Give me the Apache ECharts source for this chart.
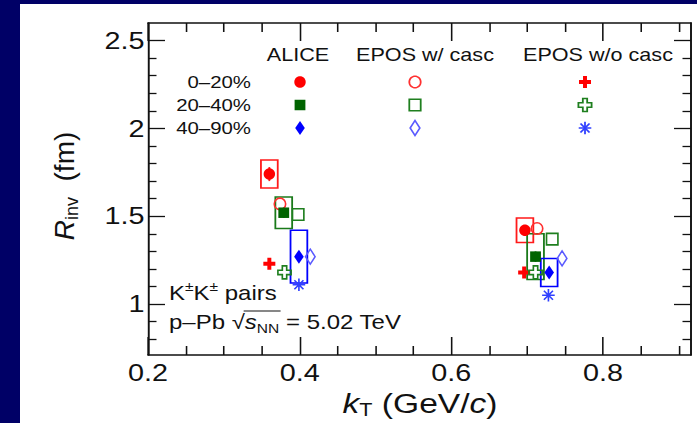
<!DOCTYPE html>
<html>
<head>
<meta charset="utf-8">
<script src="https://cdn.jsdelivr.net/npm/echarts@6/dist/echarts.min.js"></script>
<style>
  html, body { margin: 0; padding: 0; width: 697px; height: 423px; overflow: hidden; background: #000066; }
  #panel { position: absolute; left: 20px; top: 4px; right: 0; bottom: 0; background: #ffffff; }
  #chart { position: absolute; left: 0; top: 0; width: 581px; height: 423px;
           transform: scaleX(1.19966); transform-origin: 0 0; }
</style>
</head>
<body>
<div id="panel"></div>
<div id="chart"></div>
<script>
// ---- data ---------------------------------------------------------------
const centralities = ['0–20%', '20–40%', '40–90%'];
const modelNames = ['ALICE', 'EPOS w/ casc', 'EPOS w/o casc'];

const kTTicks = [0.2, 0.4, 0.6, 0.8];
const kTMinorTicks = [0.25, 0.3, 0.35, 0.45, 0.5, 0.55, 0.65, 0.7, 0.75, 0.85, 0.9];
const rTicks = [1, 1.5, 2, 2.5];
const rMinorTicks = [0.8, 0.9, 1.1, 1.2, 1.3, 1.4, 1.6, 1.7, 1.8, 1.9, 2.1, 2.2, 2.3, 2.4];

// ALICE K±K± radii, one row per centrality class, two kT bins each
const aliceKt   = [[0.360, 0.697], [0.379, 0.711], [0.399, 0.729]];
const aliceR    = [[1.74, 1.42], [1.52, 1.27], [1.27, 1.18]];
const aliceStat = [[0.04, 0.03], [0.03, 0.03], [0.03, 0.03]];
const aliceSyst = [[0.08, 0.07], [0.09, 0.13], [0.15, 0.08]];

// EPOS with hadronic cascade (UrQMD)
const eposCascKt = [[0.374, 0.713], [0.398, 0.733], [0.414, 0.746]];
const eposCascR  = [[1.57, 1.43], [1.51, 1.37], [1.27, 1.26]];

// EPOS without hadronic cascade
const eposNoCascKt = [[0.360, 0.696], [0.380, 0.711], [0.399, 0.728]];
const eposNoCascR  = [[1.23, 1.18], [1.18, 1.18], [1.11, 1.05]];

// ---- styling ------------------------------------------------------------
const SX = 697 / 581;            // horizontal stretch of the drawing surface
const px = v => v / SX;          // page x -> drawing x
const FONT = "'Liberation Sans', Arial, Helvetica, sans-serif";
const INK = '#111111';

// unit marker outlines (x, y in [-1, 1])
const SHAPES = {
  circle: 'M1,0C1,0.552,0.552,1,0,1C-0.552,1,-1,0.552,-1,0C-1,-0.552,-0.552,-1,0,-1C0.552,-1,1,-0.552,1,0Z',
  square: 'M-1,-1L1,-1L1,1L-1,1Z',
  diamond: 'M0,-1L1,0L0,1L-1,0Z',
  plus: 'M-0.33,-1L0.33,-1L0.33,-0.33L1,-0.33L1,0.33L0.33,0.33L0.33,1L-0.33,1L-0.33,0.33L-1,0.33L-1,-0.33L-0.33,-0.33Z',
  star: 'M-1,0L1,0M0,-1L0,1M-0.72,-0.72L0.72,0.72M-0.72,0.72L0.72,-0.72'
};
const POLYS = {
  square: [[-1, -1], [1, -1], [1, 1], [-1, 1]],
  diamond: [[0, -1], [1, 0], [0, 1], [-1, 0]],
  plus: [[-0.33, -1], [0.33, -1], [0.33, -0.33], [1, -0.33], [1, 0.33], [0.33, 0.33], [0.33, 1],
         [-0.33, 1], [-0.33, 0.33], [-1, 0.33], [-1, -0.33], [-0.33, -0.33]],
  star: [[[-1, 0], [1, 0]], [[0, -1], [0, 1]], [[-0.72, -0.72], [0.72, 0.72]], [[-0.72, 0.72], [0.72, -0.72]]]
};

const markerStyles = {
  alice: [
    { kind: 'circle',  w: 9.5, h: 11.5, fill: '#ff0000' },
    { kind: 'square',  w: 9,   h: 10.5, fill: '#006400' },
    { kind: 'diamond', w: 8,   h: 14,   fill: '#0000ff' }
  ],
  eposCasc: [
    { kind: 'circle',  w: 9.5, h: 11.5, stroke: '#ff3030' },
    { kind: 'square',  w: 9.5, h: 11.5, stroke: '#1f7f1f' },
    { kind: 'diamond', w: 8,   h: 15,   stroke: '#5a5aff' }
  ],
  eposNoCasc: [
    { kind: 'plus', w: 10,   h: 12,   fill: '#ff0000' },
    { kind: 'plus', w: 11,   h: 13,   stroke: '#1f7f1f' },
    { kind: 'star', w: 10.5, h: 12.5, stroke: '#3040ff' }
  ]
};
const boxColors = ['#ff1a1a', '#1a7a1a', '#0000ff'];

// ---- axes (frame with inward major and minor ticks on all four sides) ---
function kTAxis(position, ticks, len, line, labels) {
  return {
    type: 'value', min: 0.2, max: 0.916, position: position,
    axisLine: { show: line, onZero: false, lineStyle: { color: INK, width: 1.6 } },
    axisTick: { show: true, inside: true, length: len, customValues: ticks, lineStyle: { color: INK, width: 1.3 } },
    axisLabel: { show: labels, customValues: ticks, margin: 6, fontSize: 24, lineHeight: 24, fontFamily: FONT, color: INK,
                 formatter: v => String(v) },
    splitLine: { show: false }
  };
}
function rAxis(position, ticks, len, line, labels) {
  return {
    type: 'value', min: 0.71, max: 2.6, position: position,
    axisLine: { show: line, onZero: false, lineStyle: { color: INK, width: 1.6 } },
    axisTick: { show: true, inside: true, length: len, customValues: ticks, lineStyle: { color: INK, width: 1.3 } },
    axisLabel: { show: labels, customValues: ticks, margin: 3, fontSize: 24, fontFamily: FONT, color: INK,
                 formatter: v => String(v) },
    splitLine: { show: false }
  };
}

// ---- series -------------------------------------------------------------
const systBoxes = [];
const statBars = [];
for (let c = 0; c < centralities.length; c++) {
  for (let j = 0; j < aliceKt[c].length; j++) {
    systBoxes.push([aliceKt[c][j], aliceR[c][j], aliceSyst[c][j], c]);
    statBars.push([aliceKt[c][j], aliceR[c][j], aliceStat[c][j], c]);
  }
}

const series = [
  {
    type: 'custom', name: 'ALICE syst.', z: 2, data: systBoxes, encode: { x: 0, y: 1 },
    renderItem: function (params, api) {
      const x = api.value(0), y = api.value(1), e = api.value(2), c = api.value(3);
      const hi = api.coord([x, y + e]);
      const lo = api.coord([x, y - e]);
      const hw = 7;
      return {
        type: 'rect',
        shape: { x: hi[0] - hw, y: hi[1], width: 2 * hw, height: lo[1] - hi[1] },
        style: { fill: 'none', stroke: boxColors[c], lineWidth: 1.5 }
      };
    }
  },
  {
    type: 'custom', name: 'ALICE stat.', z: 3, data: statBars, encode: { x: 0, y: 1 },
    renderItem: function (params, api) {
      const x = api.value(0), y = api.value(1), e = api.value(2), c = api.value(3);
      const hi = api.coord([x, y + e]);
      const lo = api.coord([x, y - e]);
      return {
        type: 'line',
        shape: { x1: hi[0], y1: hi[1], x2: lo[0], y2: lo[1] },
        style: { stroke: boxColors[c], lineWidth: 1.5 }
      };
    }
  }
];

const models = [
  { key: 'alice',      kt: aliceKt,      r: aliceR,      z: 5 },
  { key: 'eposCasc',   kt: eposCascKt,   r: eposCascR,   z: 4 },
  { key: 'eposNoCasc', kt: eposNoCascKt, r: eposNoCascR, z: 4 }
];

function itemStyleOf(m) {
  return m.fill
    ? { color: m.fill, borderWidth: 0, opacity: 1 }
    : { color: 'rgba(0,0,0,0)', borderColor: m.stroke, borderWidth: 1.5, opacity: 1 };
}

models.forEach((model, mi) => {
  centralities.forEach((cent, c) => {
    const m = markerStyles[model.key][c];
    series.push({
      type: 'scatter',
      name: modelNames[mi] + ' ' + cent,
      z: model.z,
      symbol: 'path://' + SHAPES[m.kind],
      symbolSize: [m.w, m.h],
      itemStyle: itemStyleOf(m),
      emphasis: { disabled: true },
      data: model.kt[c].map((x, j) => [x, model.r[c][j]])
    });
  });
});

// ---- legend table and annotations ---------------------------------------
function legendMarker(m, cx, cy) {
  const sx = m.w / 2, sy = m.h / 2;
  const style = m.fill ? { fill: m.fill } : { fill: 'none', stroke: m.stroke, lineWidth: 1.5 };
  if (m.kind === 'circle') {
    const pts = [];
    for (let k = 0; k < 36; k++) {
      const a = k / 36 * Math.PI * 2;
      pts.push([cx + sx * Math.cos(a), cy + sy * Math.sin(a)]);
    }
    return [{ type: 'polygon', z: 10, shape: { points: pts }, style: style }];
  }
  if (m.kind === 'star') {
    return POLYS.star.map(seg => ({
      type: 'line', z: 10,
      shape: { x1: cx + seg[0][0] * sx, y1: cy + seg[0][1] * sy, x2: cx + seg[1][0] * sx, y2: cy + seg[1][1] * sy },
      style: { stroke: m.stroke, lineWidth: 1.5 }
    }));
  }
  return [{ type: 'polygon', z: 10,
    shape: { points: POLYS[m.kind].map(p => [cx + p[0] * sx, cy + p[1] * sy]) }, style: style }];
}

const graphics = [];
const colX = [300, 415, 585].map(px);
const headX = [298, 425, 598].map(px);
const rowY = [82, 105, 128];

modelNames.forEach((name, i) => {
  graphics.push({ type: 'text', x: headX[i], y: 55, z: 10,
    style: { text: name, fill: INK, font: '18px ' + FONT, align: 'center', verticalAlign: 'middle' } });
});
centralities.forEach((cent, c) => {
  graphics.push({ type: 'text', x: px(251), y: rowY[c], z: 10,
    style: { text: cent, fill: INK, font: '17px ' + FONT, align: 'right', verticalAlign: 'middle' } });
  models.forEach((model, mi) => {
    legendMarker(markerStyles[model.key][c], colX[mi], rowY[c]).forEach(g => graphics.push(g));
  });
});

// axis titles
graphics.push({
  type: 'text', x: px(420), y: 403, z: 10,
  style: {
    text: '{i|k}{s|T}{n| (GeV/}{i|c}{n|)}', align: 'center', verticalAlign: 'middle',
    rich: {
      n: { fontSize: 28, fontFamily: FONT, fill: INK, lineHeight: 32 },
      i: { fontSize: 28, fontFamily: FONT, fontStyle: 'italic', fill: INK, lineHeight: 32 },
      s: { fontSize: 18, fontFamily: FONT, fill: INK, lineHeight: 12, verticalAlign: 'bottom' }
    }
  }
});
graphics.push({
  type: 'text', x: px(64), y: 186, rotation: Math.PI / 2, scaleY: 1 / SX, z: 10,
  style: {
    text: '{i|R}{s|inv}{n|  (fm)}', align: 'center', verticalAlign: 'middle',
    rich: {
      n: { fontSize: 28, fontFamily: FONT, fill: INK, lineHeight: 34 },
      i: { fontSize: 28, fontFamily: FONT, fontStyle: 'italic', fill: INK, lineHeight: 34 },
      s: { fontSize: 18, fontFamily: FONT, fill: INK, lineHeight: 18, verticalAlign: 'bottom' }
    }
  }
});

// system annotation
const noteRich = {
  n:   { fontSize: 20, fontFamily: FONT, fill: INK, lineHeight: 26 },
  i:   { fontSize: 20, fontFamily: FONT, fontStyle: 'italic', fill: INK, lineHeight: 26 },
  s:   { fontSize: 13, fontFamily: FONT, fill: INK, lineHeight: 13, verticalAlign: 'bottom' },
  sup: { fontSize: 13, fontFamily: FONT, fill: INK, lineHeight: 13, verticalAlign: 'top' }
};
const noteX = px(169);
graphics.push({ type: 'text', x: noteX, y: 293, z: 10,
  style: { text: '{n|K}{sup|±}{n|K}{sup|±}{n| pairs}', align: 'left', verticalAlign: 'middle', rich: noteRich } });
graphics.push({ type: 'text', x: noteX, y: 322, z: 10,
  style: { text: '{n|p–Pb }{n|√}{i|s}{s|NN}{n| = 5.02 TeV}', align: 'left', verticalAlign: 'middle', rich: noteRich } });

// overline of the square root, placed from the measured glyph widths
const ctx = document.createElement('canvas').getContext('2d');
function textWidth(t, font) { ctx.font = font; return ctx.measureText(t).width; }
const rootStart = noteX + textWidth('p–Pb ', '20px ' + FONT) + textWidth('√', '20px ' + FONT) - 1;
const rootLen = textWidth('s', 'italic 20px ' + FONT) + textWidth('NN', '13px ' + FONT) + 2;
graphics.push({ type: 'line', z: 10,
  shape: { x1: rootStart, y1: 311, x2: rootStart + rootLen, y2: 311 },
  style: { stroke: INK, lineWidth: 1.2 } });

// ---- chart --------------------------------------------------------------
const chart = echarts.init(document.getElementById('chart'), null, { renderer: 'svg' });
chart.setOption({
  animation: false,
  backgroundColor: 'transparent',
  textStyle: { fontFamily: FONT },
  grid: { left: px(148), right: px(6), top: 23, bottom: 68, containLabel: false },
  xAxis: [
    kTAxis('bottom', kTTicks, 18, true, true),
    kTAxis('bottom', kTMinorTicks, 9, false, false),
    kTAxis('top', kTTicks, 18, true, false),
    kTAxis('top', kTMinorTicks, 9, false, false)
  ],
  yAxis: [
    rAxis('left', rTicks, px(17), true, true),
    rAxis('left', rMinorTicks, px(8.5), false, false),
    rAxis('right', rTicks, px(17), true, false),
    rAxis('right', rMinorTicks, px(8.5), false, false)
  ],
  series: series,
  graphic: { elements: graphics }
});
</script>
</body>
</html>
